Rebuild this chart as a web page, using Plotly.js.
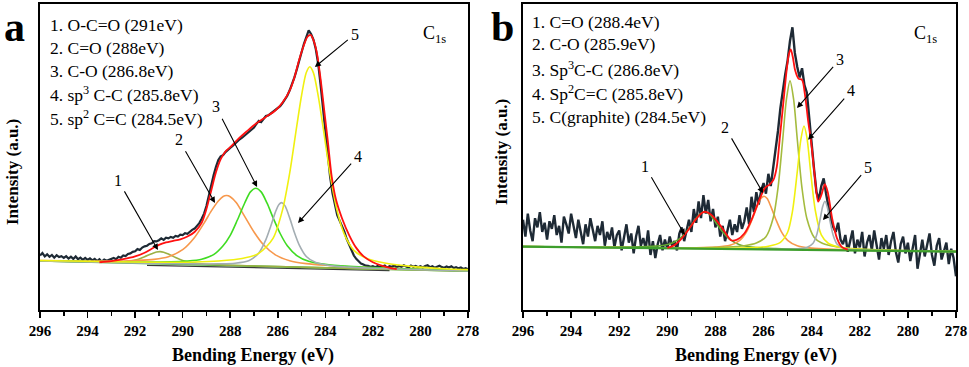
<!DOCTYPE html>
<html><head><meta charset="utf-8">
<script src="https://cdn.plot.ly/plotly-3.0.1.min.js"></script>
<style>html,body{margin:0;padding:0;background:#fff}#chart{width:969px;height:367px}</style>
</head><body><div id="chart"></div>
<script>
// ---------------- data ----------------
// raw spectra: 296.0 eV down to 278.0 eV, 0.1 eV step
const rawStartE = 296, rawStepE = -0.1;
const rawA = [
17.8,18.6,17.5,18.2,17.4,18.0,17.1,17.9,17.3,17.6,
17.0,17.6,16.8,17.4,16.7,17.5,16.6,17.1,16.4,17.0,
16.4,16.9,16.2,16.7,16.0,16.6,15.8,16.5,16.1,16.4,
16.5,17.0,16.6,17.4,17.1,17.8,17.6,18.3,18.5,19.0,
19.2,19.9,19.6,20.4,20.8,21.0,21.6,21.8,22.5,22.4,
22.8,23.4,22.9,23.6,23.4,23.9,23.6,24.2,24.0,24.6,
24.5,25.1,24.9,25.6,26.2,26.6,27.4,28.4,29.8,31.5,
34.0,37.5,40.8,44.0,46.8,49.0,50.2,50.6,51.6,52.4,
53.0,53.6,54.4,55.2,55.8,56.3,57.0,57.6,58.4,58.8,
59.6,60.8,61.8,61.4,62.4,63.4,63.6,64.2,64.8,65.2,
66.0,66.6,67.6,68.6,70.0,71.8,73.6,76.0,78.6,81.6,
84.6,87.0,89.2,91.4,90.2,88.4,85.2,80.4,73.6,66.2,
57.6,50.4,43.6,38.2,34.2,31.0,29.2,27.6,25.6,23.2,
21.2,19.4,17.8,16.7,15.9,15.2,14.9,14.5,14.4,14.1,
14.3,14.0,14.4,13.9,14.2,14.5,13.8,14.3,14.1,14.6,
14.0,14.4,14.1,14.6,14.2,13.9,14.5,14.1,14.4,14.0,
14.3,13.9,14.4,14.6,14.0,14.3,13.8,14.2,14.5,14.0,
13.8,14.2,13.9,14.3,13.7,14.0,13.6,13.9,13.4,13.7,
13.3];
const rawB = [
29.5,24.0,31.5,26.0,22.5,30.0,27.0,32.0,25.5,28.5,
23.0,29.0,26.5,31.0,24.5,27.5,22.0,30.5,28.0,25.0,
31.5,27.0,23.5,29.5,25.0,21.5,28.0,24.0,30.0,26.5,
22.5,27.5,24.5,29.0,21.0,25.5,23.0,27.0,20.5,24.5,
26.0,19.5,23.5,28.0,22.0,25.0,18.5,24.0,27.5,21.0,
23.5,20.0,26.0,18.0,22.5,17.0,21.5,24.5,19.5,23.0,
20.0,24.0,21.0,22.5,19.5,25.0,27.0,22.5,26.0,29.5,
25.5,33.0,28.5,35.5,30.0,37.5,31.5,36.0,29.0,33.0,
27.0,30.5,24.0,27.5,22.5,26.0,29.5,24.5,28.0,25.5,
31.0,26.5,29.0,33.5,28.0,37.0,32.0,38.5,34.5,39.0,
41.5,38.0,44.5,40.5,46.0,52.0,58.5,66.0,72.5,77.0,
81.5,88.0,92.4,84.0,79.5,76.0,79.0,73.5,71.0,62.5,
52.0,46.0,38.5,36.0,40.5,43.0,38.0,33.5,29.5,27.0,
25.5,28.5,23.0,21.5,24.5,19.0,22.5,26.0,18.5,23.0,
20.5,25.5,17.5,22.0,24.5,19.5,26.0,21.0,16.5,23.5,
20.0,24.5,18.0,22.5,25.5,19.0,15.5,21.5,24.0,18.5,
22.0,16.0,20.5,24.5,13.5,19.0,23.0,17.5,21.5,25.0,
18.0,14.5,21.0,23.5,16.5,19.5,22.0,15.0,20.0,17.0,
11.0];

// panel a: baselines
const aBaseE = [296, 278], aBaseV = [16.0, 12.7];
const aBackE = [291.5, 281.3], aBackV = [14.6, 12.9];
// panel a: fitted components
const a1E = [296,294,293,292.3,291.9,291.6,291.3,291.1,290.95,290.8,290.6,290.3,290.0,289.6,289,288,286,284,281,278];
const a1V = [16.0,15.73,15.67,15.9,16.5,17.4,18.4,18.95,19.07,18.9,18.3,17.15,16.15,15.4,14.95,14.64,14.2,13.82,13.25,12.7];
const a2E = [296,294,293,292,291.2,290.6,290,289.5,289.1,288.8,288.5,288.3,288.15,288.0,287.75,287.4,287.0,286.6,286.1,285.5,284.8,284,283,282,280,278];
const a2V = [16.2,16.0,16.0,16.2,16.55,17.4,19.7,23.7,28.4,32.3,35.6,37.1,37.4,37.0,35.1,30.7,25.5,21.3,18.0,16.1,15.15,14.6,14.15,13.8,13.3,12.85];
const a3E = [296,294,292.5,291.5,290.5,289.8,289.2,288.7,288.3,288.0,287.7,287.4,287.15,286.92,286.7,286.45,286.2,285.9,285.6,285.2,284.7,284.0,283.0,282,280,278];
const a3V = [16.1,15.8,15.7,15.65,15.75,16.0,16.6,18.1,21.0,24.4,29.4,34.8,38.6,39.8,38.6,34.9,30.2,25.0,21.0,17.8,15.9,14.9,14.25,13.85,13.3,12.8];
const a4E = [296,293,291,289.5,288.5,287.8,287.2,286.8,286.5,286.3,286.1,285.95,285.84,285.7,285.5,285.3,285.1,284.8,284.4,283.8,283,282,280,278];
const a4V = [16.0,15.5,15.2,15.06,15.1,15.3,16.2,18.6,23.0,27.3,32.0,34.5,35.1,34.1,30.1,25.3,21.3,17.5,15.5,14.5,14.0,13.65,13.17,12.75];
const a5E = [296,293,291,289.5,288.5,287.5,286.8,286.2,285.8,285.5,285.2,285.0,284.8,284.65,284.5,284.3,284.1,283.8,283.5,283.2,282.8,282.3,281.5,280.5,279,278];
const a5V = [16.2,15.75,15.6,15.7,16.0,16.8,18.5,23.4,32.7,44.7,60.2,70.1,77.6,79.5,77.5,70.0,60.0,44.4,32.3,24.7,19.5,17.0,15.35,14.35,13.5,13.2];
// panel a: envelope
const aFitE = [293.5,293.0,292.5,292.0,291.6,291.3,291.0,290.7,290.4,290.1,289.8,289.5,289.2,289.0,288.8,288.6,288.4,288.2,288.0,287.7,287.3,286.9,286.5,286.1,285.8,285.5,285.3,285.1,284.9,284.75,284.62,284.5,284.36,284.2,284.05,283.9,283.73,283.55,283.3,283.0,282.7,282.4,282.0,281.6,281.2,281.0];
const aFitV = [15.6,16.0,16.6,17.5,18.7,20.0,21.3,22.1,22.6,23.1,24.0,25.5,28.5,33.0,39.0,45.0,49.3,51.8,53.2,55.6,58.4,61.0,63.1,65.2,67.8,71.7,76.0,81.8,86.6,89.3,89.9,88.2,84.2,75.5,65.5,55.5,43.5,36.0,30.0,24.5,20.3,17.6,15.6,14.4,13.6,13.4];

// panel b: baseline
const bBaseE = [296, 278], bBaseV = [20.7, 19.05];
// panel b: fitted components
const b1E = [296,293,291.5,290.5,289.9,289.5,289.2,288.9,288.65,288.45,288.25,288.0,287.7,287.4,287.0,286.4,285.5,284,281,278];
const b1V = [20.75,20.57,20.59,20.87,21.6,23.25,25.64,28.85,31.33,32.11,31.29,28.77,25.51,23.06,21.34,20.49,20.07,19.75,19.38,19.1];
const b2E = [296,292,290,288.8,288,287.4,287.0,286.7,286.45,286.25,286.1,285.98,285.85,285.7,285.5,285.25,285.0,284.6,284.1,283.5,282.5,281,278];
const b2V = [20.73,20.4,20.31,20.36,20.57,21.13,22.68,25.65,30.12,34.2,36.5,37.18,36.4,33.86,29.84,25.42,22.76,20.98,20.31,19.97,19.67,19.43,19.1];
const b3E = [296,292,290,288.5,287.5,286.8,286.3,285.9,285.6,285.4,285.2,285.05,284.9,284.75,284.6,284.4,284.2,283.9,283.6,283.2,282.6,281.5,280,278];
const b3V = [20.74,20.42,20.3,20.35,20.56,21.0,21.9,23.95,30.05,39.85,56.0,68.8,74.88,68.8,55.96,39.74,29.92,23.8,21.96,20.98,20.28,19.75,19.41,19.15];
const b4E = [296,292,289,287.3,286.4,285.8,285.3,285.0,284.8,284.6,284.45,284.32,284.2,284.05,283.85,283.6,283.3,282.9,282.3,281,278];
const b4V = [20.72,20.37,20.15,20.18,20.39,20.85,22.13,25.4,32.16,45.06,55.65,60.15,56.5,45.7,32.6,24.56,21.73,20.62,19.98,19.54,19.11];
const b5E = [296,290,286,285,284.5,284.2,283.95,283.8,283.65,283.55,283.45,283.35,283.25,283.1,282.95,282.7,282.4,281.8,280,278];
const b5V = [20.71,20.16,19.86,19.89,20.08,20.44,21.7,24.33,29.57,33.61,35.55,33.59,29.53,24.27,21.6,20.3,19.88,19.58,19.29,19.08];
// panel b: envelope
const bFitE = [290.0,289.7,289.4,289.1,288.8,288.55,288.4,288.2,287.9,287.6,287.35,287.1,286.8,286.5,286.2,285.94,285.75,285.59,285.45,285.32,285.18,285.04,284.95,284.87,284.78,284.69,284.55,284.4,284.28,284.15,284.0,283.87,283.73,283.6,283.45,283.33,283.15,282.95,282.75,282.5];
const bFitV = [20.3,21.2,23.4,26.5,29.8,31.8,32.1,31.3,28.7,25.4,22.8,23.0,25.0,29.5,35.5,39.9,41.0,42.5,46.8,56.6,67.5,78.4,83.5,85.2,82.5,78.4,75.6,75.2,70.5,62.0,53.4,43.6,35.4,37.5,41.1,38.5,30.0,23.5,20.6,19.7];

// labels
const xTickVals = [296,294,292,290,288,286,284,282,280,278];
const xTickText = ['296','294','292','290','288','286','284','282','280','278'];
const xMinorVals = [295,293,291,289,287,285,283,281,279];
const legendA = ['1. O-C=O (291eV)','2. C=O (288eV)','3. C-O (286.8eV)','4. sp<sup>3</sup> C-C (285.8eV)','5. sp<sup>2</sup> C=C (284.5eV)'];
const legendB = ['1. C=O (288.4eV)','2. C-O (285.9eV)','3. Sp<sup>3</sup>C-C (286.8eV)','4. Sp<sup>2</sup>C=C (285.8eV)','5. C(graphite) (284.5eV)'];
const peakLabels = ['1','2','3','4','5'];

// ---------------- drawing ----------------
const W = 969, H = 367;
const SERIF = '"Liberation Serif", "Times New Roman", Times, serif';
const px = v => v / W, py = v => 1 - v / H;

function line(x, y, color, width, xa, ya, shape) {
  return {type:'scatter', mode:'lines', x:x, y:y, xaxis:xa, yaxis:ya,
    line:{color:color, width:width, shape:shape||'linear', smoothing:0.8},
    hoverinfo:'skip', showlegend:false};
}
function raw(vals, color, width, xa, ya) {
  return {type:'scatter', mode:'lines', x0:rawStartE, dx:rawStepE, y:vals,
    xaxis:xa, yaxis:ya, line:{color:color, width:width}, hoverinfo:'skip', showlegend:false};
}

const data = [
  raw(rawA, '#1e2a35', 2.2, 'x', 'y'),
  line(aBackE, aBackV, '#3a3a3a', 1.3, 'x', 'y'),
  line(aBaseE, aBaseV, '#46b236', 1.6, 'x', 'y'),
  line(a1E, a1V, '#9cb043', 1.6, 'x', 'y', 'spline'),
  line(a2E, a2V, '#f7984c', 1.6, 'x', 'y', 'spline'),
  line(a3E, a3V, '#3fdc22', 1.6, 'x', 'y', 'spline'),
  line(a4E, a4V, '#a3adb2', 1.6, 'x', 'y', 'spline'),
  line(a5E, a5V, '#f0f010', 1.6, 'x', 'y', 'spline'),
  line(aFitE, aFitV, '#ff1010', 1.8, 'x', 'y', 'spline'),

  raw(rawB, '#1e2a35', 2.4, 'x2', 'y2'),
  line(b1E, b1V, '#62a832', 1.6, 'x2', 'y2', 'spline'),
  line(b2E, b2V, '#f7984c', 1.6, 'x2', 'y2', 'spline'),
  line(b3E, b3V, '#a4bb3e', 1.6, 'x2', 'y2', 'spline'),
  line(b4E, b4V, '#f0f010', 1.6, 'x2', 'y2', 'spline'),
  line(b5E, b5V, '#a3adb2', 1.6, 'x2', 'y2', 'spline'),
  line(bBaseE, bBaseV, '#3d9e2c', 2.2, 'x2', 'y2'),
  line(bFitE, bFitV, '#ff1010', 1.8, 'x2', 'y2', 'spline')
];

function xAxis(domain, anchor) {
  return {domain:domain, anchor:anchor, range:[296,278], showline:true, mirror:true,
    linecolor:'#000', linewidth:2, showgrid:false, zeroline:false,
    tickmode:'array', tickvals:xTickVals, ticktext:xTickText,
    ticks:'outside', ticklen:6, tickwidth:1.5, tickcolor:'#000',
    tickfont:{family:SERIF, size:15, weight:700, color:'#000'},
    minor:{tickmode:'array', tickvals:xMinorVals, ticks:'outside', ticklen:4, tickwidth:1.5, tickcolor:'#000', showgrid:false}};
}
function yAxis(anchor) {
  return {domain:[57/H, 363/H], anchor:anchor, range:[0,100], showline:true, mirror:true,
    linecolor:'#000', linewidth:2, showgrid:false, zeroline:false, showticklabels:false, ticks:''};
}

const ann = [];
function txt(text, x, y, size, opts) {
  ann.push(Object.assign({text:text, xref:'paper', yref:'paper', x:px(x), y:py(y),
    xanchor:'left', yanchor:'middle', showarrow:false,
    font:{family:SERIF, size:size, color:'#000'}}, opts||{}));
}
legendA.forEach((t,i) => txt(t, 48, [25,48,71,94,118][i], 17.5));
legendB.forEach((t,i) => txt(t, 530, [22,44,69,93,117][i], 17.5));
txt('C<sub>1s</sub>', 421, 34, 18);
txt('C<sub>1s</sub>', 912, 34, 18);
txt('a', 2, 27, 42, {font:{family:SERIF, size:42, weight:700, color:'#000'}});
txt('b', 489, 27, 42, {font:{family:SERIF, size:42, weight:700, color:'#000'}});
txt('Intensity (a.u.)', 12, 172, 17, {xanchor:'center', textangle:-90, font:{family:SERIF, size:17, weight:700, color:'#000'}});
txt('Intensity (a.u.)', 501, 152, 17, {xanchor:'center', textangle:-90, font:{family:SERIF, size:17, weight:700, color:'#000'}});
txt('Bending Energy (eV)', 253, 355, 18, {xanchor:'center', font:{family:SERIF, size:18, weight:700, color:'#000'}});
txt('Bending Energy (eV)', 756, 355, 18, {xanchor:'center', font:{family:SERIF, size:18, weight:700, color:'#000'}});

// arrows: [head E, head value, tail dx, tail dy]
const arrowsA = [[291.04,19.6,-40,-70],[288.64,35.0,-36,-63],[286.87,40.2,-41,-80],[285.15,28.4,60,-67],[284.44,79.4,40,-33]];
const arrowsB = [[289.27,24.5,-40,-69],[286.02,38.2,-38,-66],[284.61,66.0,43,-49],[284.15,55.6,43,-49],[283.53,29.4,45,-53]];
function arrows(list, xr, yr) {
  list.forEach((a,i) => ann.push({text:peakLabels[i], xref:xr, yref:yr, x:a[0], y:a[1],
    ax:a[2], ay:a[3], showarrow:true, arrowhead:2, arrowsize:1.1, arrowwidth:1.1, arrowcolor:'#000',
    standoff:0, startstandoff:2, font:{family:SERIF, size:16, color:'#000'}}));
}
arrows(arrowsA, 'x', 'y');
arrows(arrowsB, 'x2', 'y2');

const layout = {
  width:W, height:H, margin:{l:0, r:0, t:0, b:0},
  font:{family:SERIF, color:'#000'},
  paper_bgcolor:'#fff', plot_bgcolor:'#fff', showlegend:false,
  xaxis:xAxis([40/W, 468/W], 'y'), yaxis:yAxis('x'),
  xaxis2:xAxis([523/W, 956/W], 'y2'), yaxis2:yAxis('x2'),
  annotations:ann
};
Plotly.newPlot('chart', data, layout, {staticPlot:true});
</script></body></html>
